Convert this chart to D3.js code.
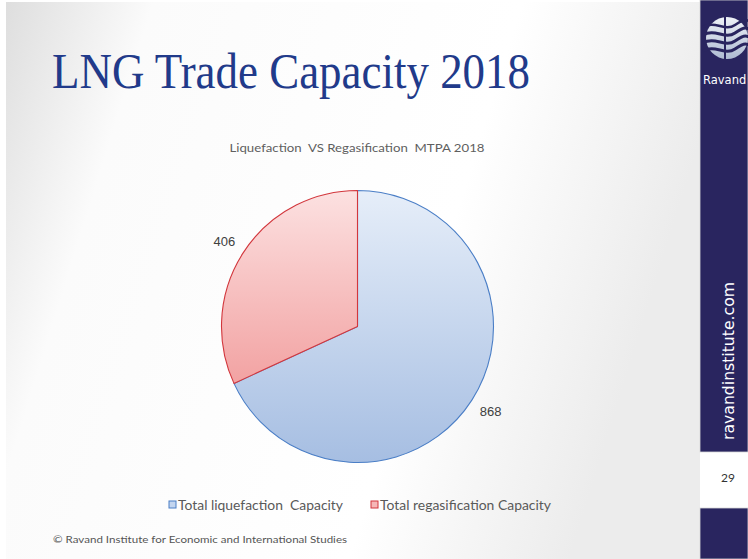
<!DOCTYPE html>
<html>
<head>
<meta charset="utf-8">
<script src="https://cdn.jsdelivr.net/npm/d3@7"></script>
<style>
  html, body { margin: 0; padding: 0; background: #fff; }
  svg { display: block; }
  text { white-space: pre; }
</style>
</head>
<body>
<svg id="slide" width="748" height="559"></svg>
<script>
// Chart data
const categories = ["Total liquefaction  Capacity", "Total regasification Capacity"];
const capacityMTPA = [868, 406];
const slideTitle = "LNG Trade Capacity 2018";
const chartTitle = "Liquefaction  VS Regasification  MTPA 2018";
const footerText = "\u00A9 Ravand Institute for Economic and International Studies";
const pageNumber = "29";
const siteText = "ravandinstitute.com";

const W = 748, H = 559;
const svg = d3.select("#slide");
const defs = svg.append("defs");

// Slide background: soft grey toward the edges
const bg = defs.append("linearGradient").attr("id", "bgGrad")
  .attr("x1", 0).attr("y1", 0).attr("x2", 1).attr("y2", 0.25);
[[0, "#dedede"], [0.2, "#fbfbfb"], [0.7, "#ffffff"], [1, "#ececec"]]
  .forEach(([o, c]) => bg.append("stop").attr("offset", o).attr("stop-color", c));
svg.append("rect").attr("width", W).attr("height", H).attr("fill", "#fff");
svg.append("rect").attr("x", 6).attr("y", 2).attr("width", 694).attr("height", H - 2)
  .attr("fill", "url(#bgGrad)");

// Slide title
svg.append("text")
  .attr("x", 52).attr("y", 88)
  .attr("font-family", "'Liberation Serif', 'Times New Roman', serif")
  .attr("font-size", 50)
  .attr("fill", "#213a8a")
  .attr("textLength", 478).attr("lengthAdjust", "spacingAndGlyphs")
  .text(slideTitle);

// Chart title
svg.append("text")
  .attr("x", 357).attr("y", 152)
  .attr("text-anchor", "middle")
  .attr("font-family", "Lato, 'Open Sans', sans-serif")
  .attr("font-size", 12)
  .attr("fill", "#5f5f5f")
  .attr("textLength", 255).attr("lengthAdjust", "spacingAndGlyphs")
  .text(chartTitle);

// Pie
const cx = 357.5, cy = 326.5, R = 136;
const fills = [
  { id: "gBlue", top: "#e6eef9", bot: "#a6bee2", stroke: "#4a7ec6", y2: R },
  { id: "gRed",  top: "#fce1e1", bot: "#f2a2a2", stroke: "#d2363c", y2: R * 0.42 }
];
fills.forEach(f => {
  // gradient coordinates are in the pie group's (centred) space
  const g = defs.append("linearGradient").attr("id", f.id)
    .attr("gradientUnits", "userSpaceOnUse")
    .attr("x1", 0).attr("y1", -R).attr("x2", 0).attr("y2", f.y2);
  g.append("stop").attr("offset", 0).attr("stop-color", f.top);
  g.append("stop").attr("offset", 1).attr("stop-color", f.bot);
});

const pie = d3.pie().sort(null).value(d => d)(capacityMTPA);
const arc = d3.arc().innerRadius(0).outerRadius(R);
const pieG = svg.append("g").attr("transform", `translate(${cx},${cy})`);
pieG.selectAll("path").data(pie).join("path")
  .attr("d", arc)
  .attr("fill", (d, i) => `url(#${fills[i].id})`)
  .attr("stroke", (d, i) => fills[i].stroke)
  .attr("stroke-width", 1.1)
  .attr("stroke-linejoin", "round");

// Value labels just outside the slices
const labelArc = d3.arc().innerRadius(R + 22).outerRadius(R + 22);
pieG.selectAll("text.val").data(pie).join("text")
  .attr("class", "val")
  .attr("x", d => labelArc.centroid(d)[0])
  .attr("y", d => labelArc.centroid(d)[1])
  .attr("dy", "0.35em")
  .attr("text-anchor", "middle")
  .attr("font-family", "'Liberation Sans', Arial, sans-serif")
  .attr("font-size", 13)
  .attr("fill", "#404040")
  .text(d => d.data);

// Legend
const legendX = [169, 371];
const legendW = [165, 171];
const legend = svg.append("g");
categories.forEach((c, i) => {
  legend.append("rect")
    .attr("x", legendX[i]).attr("y", 501).attr("width", 7).attr("height", 7)
    .attr("fill", i === 0 ? "#c3d5ef" : "#f6b7b7")
    .attr("stroke", fills[i].stroke).attr("stroke-width", 1);
  legend.append("text")
    .attr("x", legendX[i] + 9).attr("y", 509.5)
    .attr("font-family", "Lato, 'Open Sans', sans-serif")
    .attr("font-size", 13)
    .attr("fill", "#595959")
    .attr("textLength", legendW[i]).attr("lengthAdjust", "spacingAndGlyphs")
    .text(c);
});

// Footer
svg.append("text")
  .attr("x", 53).attr("y", 543)
  .attr("font-family", "Lato, 'Open Sans', sans-serif")
  .attr("font-size", 10)
  .attr("fill", "#555")
  .attr("textLength", 294).attr("lengthAdjust", "spacingAndGlyphs")
  .text(footerText);

// Side bar
const navy = "#29255f";
svg.append("rect").attr("x", 700).attr("y", 0).attr("width", 48).attr("height", 452)
  .attr("fill", navy).attr("stroke", "#d8d8d8").attr("stroke-width", 0.8);
svg.append("rect").attr("x", 700).attr("y", 508).attr("width", 48).attr("height", 51)
  .attr("fill", navy).attr("stroke", "#d8d8d8").attr("stroke-width", 0.8);
svg.append("text")
  .attr("x", 728).attr("y", 482)
  .attr("text-anchor", "middle")
  .attr("font-family", "Lato, 'Open Sans', sans-serif")
  .attr("font-size", 12)
  .attr("fill", "#333")
  .text(pageNumber);

svg.append("text")
  .attr("transform", "translate(734,440) rotate(-90)")
  .attr("font-family", "'DejaVu Sans', sans-serif")
  .attr("font-size", 16)
  .attr("fill", "#ffffff")
  .attr("textLength", 158).attr("lengthAdjust", "spacingAndGlyphs")
  .text(siteText);

// Logo: striped globe
const logo = svg.append("g").attr("transform", "translate(727,38)");
const lg = defs.append("linearGradient").attr("id", "logoGrad")
  .attr("x1", 0).attr("y1", 0).attr("x2", 0).attr("y2", 1);
lg.append("stop").attr("offset", 0).attr("stop-color", "#eef2f8");
lg.append("stop").attr("offset", 1).attr("stop-color", "#aebbd2");
logo.append("circle").attr("r", 21).attr("fill", "url(#logoGrad)");
[-11, -3, 5, 13].forEach((y, i) => {
  logo.append("path")
    .attr("d", `M-24,${y} C-12,${y - 7} -2,${y + 5} 8,${y - 2} S20,${y - 8} 26,${y - 3}`)
    .attr("fill", "none").attr("stroke", navy).attr("stroke-width", i === 0 ? 2.5 : 3);
});
logo.append("path").attr("d", "M-2,-21 L-2,21").attr("stroke", navy).attr("stroke-width", 2);
svg.append("text")
  .attr("x", 703).attr("y", 84)
  .attr("font-family", "'DejaVu Sans', sans-serif")
  .attr("font-size", 11.5)
  .attr("fill", "#ffffff")
  .text("Ravand");
</script>
</body>
</html>
